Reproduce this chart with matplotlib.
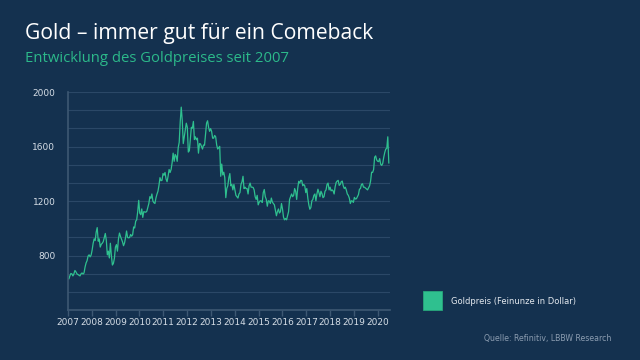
"""
Gold price since 2007 (LBBW style chart), semi-monthly readings off the chart.
"""
import matplotlib
matplotlib.use("Agg")
import matplotlib.pyplot as plt
import numpy as np

BG = "#14314f"
GREEN = "#2fc08f"
GRID = "#2b4867"
AXIS = "#3d5873"

TITLE = "Gold – immer gut für ein Comeback"
SUBTITLE = "Entwicklung des Goldpreises seit 2007"
LEGEND_LABEL = "Goldpreis (Feinunze in Dollar)"
SOURCE = "Quelle: Refinitiv, LBBW Research"

YEARS = list(range(2007, 2021))
Y_LABELS = [800, 1200, 1600, 2000]

# USD per ounce, roughly twice a month (1st / mid-month)
gold_2007 = [630, 628, 650, 668, 665, 650, 665, 690, 680, 665, 660, 655,
             650, 665, 672, 664, 672, 715, 745, 762, 796, 805, 790, 803]
gold_2008 = [840, 890, 922, 910, 972, 1005, 905, 922, 862, 882, 890, 902,
             932, 962, 912, 805, 832, 782, 890, 800, 730, 742, 780, 862]
gold_2009 = [880, 832, 922, 965, 940, 920, 900, 872, 892, 932, 980, 932,
             930, 932, 955, 942, 952, 1010, 1002, 1052, 1062, 1122, 1205, 1112]
gold_2010 = [1100, 1142, 1080, 1122, 1120, 1118, 1125, 1152, 1182, 1232, 1220, 1252,
             1200, 1188, 1182, 1222, 1250, 1272, 1315, 1372, 1350, 1352, 1402, 1390]
gold_2011 = [1410, 1362, 1342, 1382, 1432, 1410, 1432, 1482, 1552, 1492, 1542, 1530,
             1492, 1592, 1632, 1782, 1890, 1792, 1622, 1672, 1722, 1772, 1742, 1560]
gold_2012 = [1570, 1652, 1742, 1735, 1785, 1652, 1672, 1650, 1662, 1552, 1622, 1620,
             1600, 1582, 1612, 1610, 1692, 1772, 1790, 1742, 1712, 1732, 1712, 1662]
gold_2013 = [1662, 1682, 1672, 1612, 1582, 1592, 1602, 1382, 1472, 1392, 1412, 1372,
             1225, 1292, 1312, 1372, 1402, 1312, 1322, 1282, 1322, 1282, 1242, 1232]
gold_2014 = [1222, 1252, 1262, 1322, 1342, 1382, 1292, 1302, 1292, 1292, 1252, 1312,
             1332, 1302, 1302, 1300, 1282, 1232, 1212, 1242, 1172, 1192, 1202, 1200]
gold_2015 = [1190, 1262, 1285, 1232, 1212, 1162, 1202, 1200, 1182, 1222, 1192, 1182,
             1172, 1132, 1092, 1122, 1142, 1112, 1122, 1182, 1142, 1082, 1062, 1072]
gold_2016 = [1062, 1092, 1122, 1212, 1232, 1252, 1232, 1242, 1292, 1272, 1212, 1292,
             1345, 1332, 1352, 1350, 1312, 1322, 1312, 1262, 1292, 1222, 1172, 1140]
gold_2017 = [1152, 1202, 1212, 1242, 1252, 1202, 1252, 1287, 1262, 1232, 1272, 1255,
             1225, 1232, 1272, 1282, 1322, 1332, 1282, 1302, 1275, 1282, 1275, 1252]
gold_2018 = [1305, 1337, 1347, 1352, 1315, 1322, 1342, 1347, 1312, 1292, 1302, 1282,
             1252, 1242, 1222, 1182, 1202, 1200, 1190, 1227, 1215, 1217, 1232, 1247]
gold_2019 = [1287, 1292, 1322, 1327, 1302, 1302, 1295, 1287, 1282, 1297, 1312, 1347,
             1412, 1410, 1432, 1522, 1532, 1502, 1492, 1490, 1512, 1470, 1462, 1477]
gold_2020 = [1522, 1557, 1582, 1587, 1672, 1480]

prices = (gold_2007 + gold_2008 + gold_2009 + gold_2010 + gold_2011 + gold_2012
          + gold_2013 + gold_2014 + gold_2015 + gold_2016 + gold_2017 + gold_2018
          + gold_2019 + gold_2020)
# chart position of first and last reading, in axis years
dates = np.linspace(2007.0, 2020.46, len(prices))


def main() -> None:
    fig = plt.figure(figsize=(6.4, 3.6), dpi=100, facecolor=BG)
    ax = fig.add_axes([0.106, 0.139, 0.503, 0.605], facecolor=BG)

    ax.plot(dates, prices, color=GREEN, lw=0.9)

    ax.set_xlim(2007, 2020.5)
    ax.set_ylim(400, 2000)
    ax.set_xticks(YEARS)
    ax.set_xticklabels([str(y) for y in YEARS])
    ax.set_yticks(Y_LABELS)
    ax.set_yticks([400 + k * 400 / 3 for k in range(1, 13)], minor=True)
    ax.grid(True, which="both", axis="y", color=GRID, lw=0.8)
    ax.set_axisbelow(True)

    for side in ("top", "right"):
        ax.spines[side].set_visible(False)
    for side in ("left", "bottom"):
        ax.spines[side].set_color(AXIS)
        ax.spines[side].set_linewidth(1.2)

    ax.tick_params(axis="x", colors=AXIS, length=4, width=1, labelcolor="#d5dde6",
                   labelsize=6.5, pad=2)
    ax.tick_params(axis="y", which="both", length=0, labelcolor="#d5dde6",
                   labelsize=6.5, pad=9)

    fig.text(25 / 640, 1 - 33 / 360, TITLE, color="white", fontsize=15.2,
             family="Open Sans", va="center", ha="left")
    fig.text(25 / 640, 1 - 58 / 360, SUBTITLE, color="#2cb98a", fontsize=10.7,
             family="Open Sans", va="center", ha="left")

    fig.patches.append(plt.Rectangle((423 / 640, 1 - 310 / 360), 19 / 640, 19 / 360,
                                     transform=fig.transFigure, facecolor=GREEN,
                                     edgecolor="#27a77b", lw=0.6))
    fig.text(451 / 640, 1 - 301.5 / 360, LEGEND_LABEL, color="#e3e8ee", fontsize=6,
             va="center", ha="left")
    fig.text(611 / 640, 1 - 338 / 360, SOURCE, color="#8c9db1", fontsize=5.6,
             va="center", ha="right")

    fig.savefig("out.png", dpi=100, facecolor=BG)


if __name__ == "__main__":
    main()
